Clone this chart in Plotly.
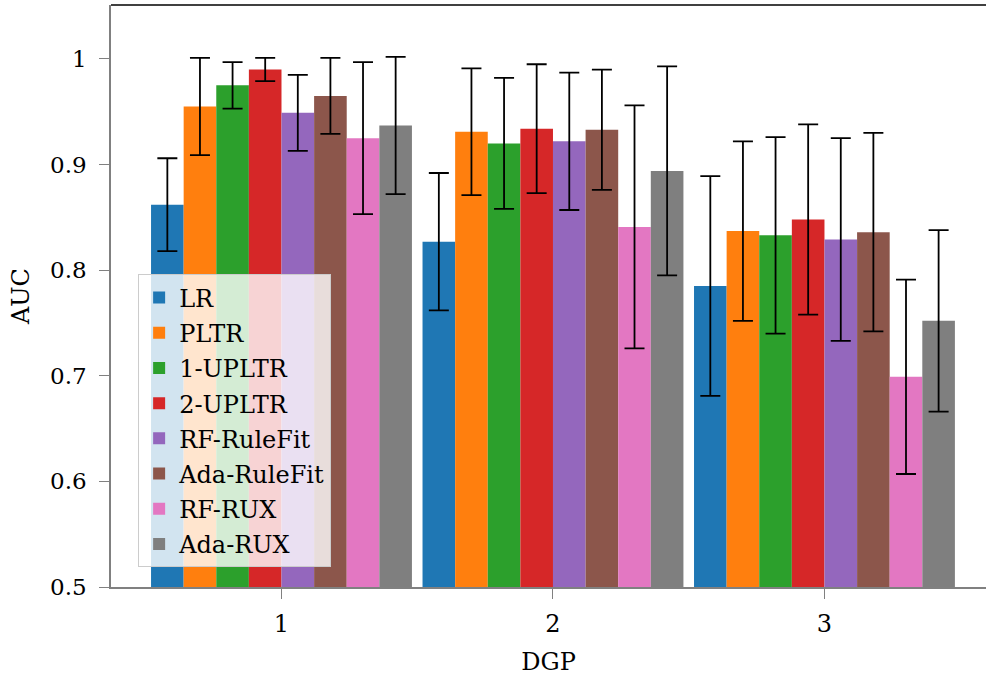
import plotly.graph_objects as go

dgp = [1, 2, 3]
models = ["LR", "PLTR", "1-UPLTR", "2-UPLTR", "RF-RuleFit", "Ada-RuleFit", "RF-RUX", "Ada-RUX"]
colors = ["#1f77b4", "#ff7f0e", "#2ca02c", "#d62728", "#9467bd", "#8c564b", "#e377c2", "#7f7f7f"]

# mean AUC per model for DGP 1, 2, 3
auc_lr = [0.862, 0.827, 0.785]
auc_pltr = [0.955, 0.931, 0.837]
auc_1upltr = [0.975, 0.920, 0.833]
auc_2upltr = [0.990, 0.934, 0.848]
auc_rf_rulefit = [0.949, 0.922, 0.829]
auc_ada_rulefit = [0.965, 0.933, 0.836]
auc_rf_rux = [0.925, 0.841, 0.699]
auc_ada_rux = [0.937, 0.894, 0.752]

# error bar half-widths (std)
err_lr = [0.044, 0.065, 0.104]
err_pltr = [0.046, 0.060, 0.085]
err_1upltr = [0.022, 0.062, 0.093]
err_2upltr = [0.011, 0.061, 0.090]
err_rf_rulefit = [0.036, 0.065, 0.096]
err_ada_rulefit = [0.036, 0.057, 0.094]
err_rf_rux = [0.072, 0.115, 0.092]
err_ada_rux = [0.065, 0.099, 0.086]

values = [auc_lr, auc_pltr, auc_1upltr, auc_2upltr, auc_rf_rulefit, auc_ada_rulefit, auc_rf_rux, auc_ada_rux]
errors = [err_lr, err_pltr, err_1upltr, err_2upltr, err_rf_rulefit, err_ada_rulefit, err_rf_rux, err_ada_rux]

FONT = "DejaVu Serif"

fig = go.Figure()
for name, col, v, e in zip(models, colors, values, errors):
    fig.add_trace(go.Bar(
        x=dgp, y=v, name=name, marker=dict(color=col, line=dict(width=0)),
        legendgroup=name,
        error_y=dict(type="data", array=e, visible=True, color="black", thickness=1.8, width=10),
    ))

fig.update_layout(
    width=986, height=676,
    margin=dict(l=111, r=0, t=5, b=89),
    paper_bgcolor="white", plot_bgcolor="white",
    barmode="group", bargap=0.039, bargroupgap=0,
    font=dict(family=FONT, size=23, color="black"),
    showlegend=True,
    legend=dict(
        x=0.031, y=0.537, xanchor="left", yanchor="top",
        bgcolor="rgba(255,255,255,0.8)", bordercolor="#cccccc", borderwidth=1,
        font=dict(family=FONT, size=24, color="black"),
        traceorder="grouped", tracegroupgap=1,
    ),
    xaxis=dict(
        range=[0.372, 3.595], tickvals=dgp, ticktext=[str(d) for d in dgp],
        showgrid=False, zeroline=False, showline=True, linecolor="#808080", linewidth=1.5,
        ticks="outside", ticklen=10, tickcolor="#808080", tickwidth=1.2,
        tickfont=dict(family=FONT, size=24), ticklabelstandoff=4,
        title=dict(text="DGP", font=dict(family=FONT, size=24), standoff=18),
    ),
    yaxis=dict(
        range=[0.5, 1.0511], tickvals=[0.5, 0.6, 0.7, 0.8, 0.9, 1.0],
        ticktext=["0.5", "0.6", "0.7", "0.8", "0.9", "1"],
        showgrid=False, zeroline=False, showline=True, linecolor="#808080", linewidth=1.5,
        ticks="outside", ticklen=10, tickcolor="#808080", tickwidth=1.2,
        tickfont=dict(family=FONT, size=23), ticklabelstandoff=8,
        title=dict(text="AUC", font=dict(family=FONT, size=24), standoff=14),
    ),
    shapes=[dict(type="line", xref="paper", yref="paper", x0=0, x1=1, y0=1, y1=1,
                 line=dict(color="black", width=1.5))],
)

fig.write_html("out.html")
